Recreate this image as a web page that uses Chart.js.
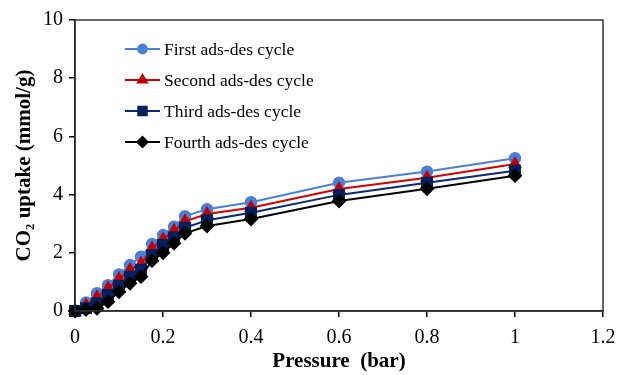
<!DOCTYPE html>
<html>
<head>
<meta charset="utf-8">
<script src="https://cdn.jsdelivr.net/npm/chart.js@4.4.1/dist/chart.umd.min.js"></script>
<style>
  html, body { margin: 0; padding: 0; background: #fff; }
  #wrap { width: 618px; height: 375px; }
</style>
</head>
<body>
<div id="wrap"><canvas id="co2Chart" width="618" height="375"></canvas></div>
<script>
// pressure points (bar)
const pressure = [0, 0.025, 0.05, 0.075, 0.1, 0.125, 0.15, 0.175, 0.2, 0.225, 0.25, 0.3, 0.4, 0.6, 0.8, 1.0];

// CO2 uptake (mmol/g) for each cycle
const firstCycle  = [0, 0.29, 0.61, 0.89, 1.26, 1.58, 1.87, 2.30, 2.61, 2.90, 3.26, 3.50, 3.74, 4.41, 4.79, 5.25];
const secondCycle = [0, 0.20, 0.47, 0.78, 1.10, 1.41, 1.62, 2.15, 2.46, 2.76, 3.08, 3.33, 3.55, 4.19, 4.58, 5.05];
const thirdCycle  = [0, 0.10, 0.26, 0.55, 0.86, 1.18, 1.41, 1.92, 2.27, 2.53, 2.86, 3.12, 3.38, 3.99, 4.41, 4.82];
const fourthCycle = [0, 0.05, 0.09, 0.32, 0.66, 0.95, 1.18, 1.73, 2.00, 2.33, 2.67, 2.92, 3.16, 3.78, 4.20, 4.65];

const cycleLabels = ['First ads-des cycle', 'Second ads-des cycle', 'Third ads-des cycle', 'Fourth ads-des cycle'];
const xTicks = [0, 0.2, 0.4, 0.6, 0.8, 1, 1.2];
const yTicks = [0, 2, 4, 6, 8, 10];

const toPoints = (vals) => vals.map((v, i) => ({ x: pressure[i], y: v }));

const serif = "'Liberation Serif', 'Times New Roman', serif";

// frame around the plot area
const boxPlugin = {
  id: 'box',
  afterDraw(chart) {
    const { ctx, chartArea: a } = chart;
    ctx.save();
    ctx.strokeStyle = '#333';
    ctx.lineWidth = 1.5;
    ctx.strokeRect(a.left, a.top, a.right - a.left, a.bottom - a.top);
    ctx.restore();
  }
};

// legend inside the plot, line + marker like Excel
const innerLegend = {
  id: 'innerLegend',
  afterDraw(chart) {
    const ctx = chart.ctx;
    const x0 = 125, x1 = 160, yStart = 49, step = 31;
    chart.data.datasets.forEach((ds, i) => {
      const y = yStart + i * step;
      ctx.save();
      ctx.strokeStyle = ds.borderColor;
      ctx.lineWidth = ds.borderWidth;
      ctx.beginPath();
      ctx.moveTo(x0, y);
      ctx.lineTo(x1, y);
      ctx.stroke();
      ctx.fillStyle = ds.pointBackgroundColor;
      ctx.strokeStyle = ds.pointBorderColor;
      Chart.helpers.drawPoint(ctx, {
        pointStyle: ds.pointStyle,
        radius: ds.pointRadius * 0.85,
        borderWidth: 1
      }, (x0 + x1) / 2, y);
      ctx.fillStyle = '#000';
      ctx.font = '17.5px ' + serif;
      ctx.textBaseline = 'middle';
      ctx.fillText(ds.label, x1 + 4, y + 1);
      ctx.restore();
    });
  }
};

const ctx = document.getElementById('co2Chart').getContext('2d');
const mk = (label, data, color, fill, style, r, order) => ({
  label,
  data: toPoints(data),
  borderColor: color,
  backgroundColor: fill,
  pointBackgroundColor: fill,
  pointBorderColor: fill,
  borderWidth: 2,
  pointStyle: style,
  pointRadius: r,
  pointHoverRadius: r,
  tension: 0,
  clip: false,
  order
});

new Chart(ctx, {
  type: 'line',
  data: {
    datasets: [
      mk(cycleLabels[0], firstCycle, '#4a7fd6', '#4a7fd6', 'circle', 5.2, 4),
      mk(cycleLabels[1], secondCycle, '#d00000', '#c00000', 'triangle', 6, 3),
      mk(cycleLabels[2], thirdCycle, '#0a2a6e', '#002060', 'rect', 7, 2),
      mk(cycleLabels[3], fourthCycle, '#000000', '#000000', 'rectRot', 6, 1)
    ]
  },
  options: {
    responsive: false,
    animation: false,
    layout: { padding: { left: 0, right: 15, top: 20, bottom: 0 } },
    plugins: {
      legend: { display: false },
      tooltip: { enabled: false }
    },
    scales: {
      x: {
        type: 'linear',
        min: 0,
        max: 1.2,
        afterBuildTicks: (s) => { s.ticks = xTicks.map(v => ({ value: v })); },
        afterFit: (s) => { s.height = 64; s.paddingRight = 0; s.paddingLeft = 0; },
        grid: { display: true, drawOnChartArea: false, drawTicks: true, tickLength: 6, color: '#000', lineWidth: 1.5 },
        border: { display: true, color: '#000', width: 1.5 },
        ticks: {
          color: '#000', font: { family: serif, size: 20 }, padding: 9, maxRotation: 0,
          callback: (v) => String(+v.toFixed(1))
        },
        title: { display: true, text: 'Pressure  (bar)', color: '#000', font: { family: serif, size: 21, weight: 'bold' }, padding: { top: 1, bottom: 1 } }
      },
      y: {
        min: 0,
        max: 10,
        afterBuildTicks: (s) => { s.ticks = yTicks.map(v => ({ value: v })); },
        afterFit: (s) => { s.width = 75; },
        grid: { display: true, drawOnChartArea: false, drawTicks: true, tickLength: 6, color: '#000', lineWidth: 1.5 },
        border: { display: true, color: '#000', width: 1.5 },
        ticks: { color: '#000', font: { family: serif, size: 20 }, padding: 6 },
        title: { display: true, text: 'CO₂ uptake (mmol/g)', color: '#000', font: { family: serif, size: 21, weight: 'bold' }, padding: { top: 12, bottom: 12 } }
      }
    }
  },
  plugins: [boxPlugin, innerLegend]
});
</script>
</body>
</html>
